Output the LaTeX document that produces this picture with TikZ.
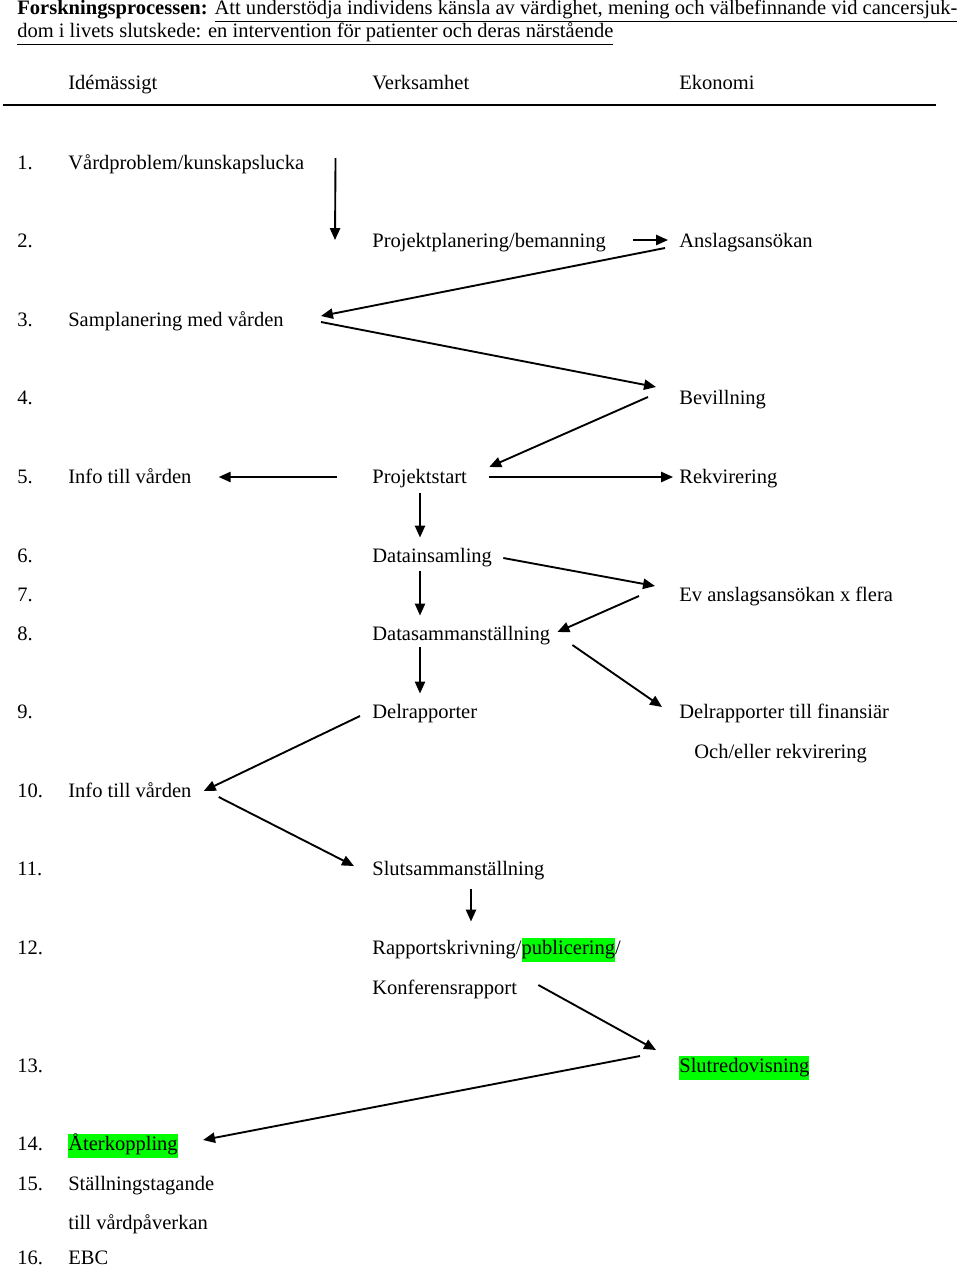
\documentclass[tikz,border=0pt]{standalone}
\usepackage{fontspec}
\setmainfont{Liberation Serif}
\usepackage{graphicx}
\usetikzlibrary{arrows.meta,calc}
\definecolor{hlgreen}{rgb}{0,1,0}
\newcommand{\hlg}[1]{{\setlength{\fboxsep}{0pt}\colorbox{hlgreen}{\strut #1}}}

\begin{document}
\begin{tikzpicture}[x=0.585pt,y=-0.585pt,
    txt/.style={anchor=west,inner sep=0pt,text height=10.4pt,text depth=1.5pt,
      font=\fontsize{12}{14}\selectfont},
    arr/.style={line width=1.1pt,-{Triangle[length=7pt,width=6pt]}}]
        \useasboundingbox (0,0) rectangle (960,1269);
        % Title
        \node[anchor=base west,inner sep=0pt,font=\fontsize{12}{14}\selectfont] (title1) at (17,15)
          {\resizebox{549.9pt}{\height}{\textbf{Forskningsprocessen:} \underline{Att understödja individens känsla av värdighet, mening och välbefinnande vid cancersjuk-}}};
        \node[anchor=base west,inner sep=0pt,font=\fontsize{12}{14}\selectfont] (title2) at (17,38)
          {\resizebox{348.7pt}{\height}{\underline{dom i livets slutskede: en intervention för patienter och deras närstående}}};
        % Head
        \node[txt] (idea) at (68,82) {Idémässigt};
        \node[txt] (verk) at (372,82) {Verksamhet};
        \node[txt] (ekon) at (679,82) {Ekonomi};
        \draw[line width=0.9pt] (3,105) -- (936,105);
        % Numbers
        \node[txt] (n1) at (17,162) {1.};
        \node[txt] (n2) at (17,240) {2.};
        \node[txt] (n3) at (17,319) {3.};
        \node[txt] (n4) at (17,397) {4.};
        \node[txt] (n5) at (17,476) {5.};
        \node[txt] (n6) at (17,555) {6.};
        \node[txt] (n7) at (17,594) {7.};
        \node[txt] (n8) at (17,633) {8.};
        \node[txt] (n9) at (17,711) {9.};
        \node[txt] (n10) at (17,790) {10.};
        \node[txt] (n11) at (17,868) {11.};
        \node[txt] (n12) at (17,947) {12.};
        \node[txt] (n13) at (17,1065) {13.};
        \node[txt] (n14) at (17,1143) {14.};
        \node[txt] (n15) at (17,1183) {15.};
        \node[txt] (n16) at (17,1257) {16.};
        % Idemassigt
        \node[txt] (vard) at (68,162) {Vårdproblem/kunskapslucka};
        \node[txt] (samp) at (68,319) {Samplanering med vården};
        \node[txt] (info1) at (68,476) {Info till vården};
        \node[txt] (info2) at (68,790) {Info till vården};
        \node[txt] (ater) at (68,1143) {\hlg{Återkoppling}};
        \node[txt] (stall) at (68,1183) {Ställningstagande};
        \node[txt] (till) at (68,1222) {till vårdpåverkan};
        \node[txt] (ebc) at (68,1257) {EBC};
        % Verksamhet
        \node[txt] (proj) at (372,240) {Projektplanering/bemanning};
        \node[txt] (start) at (372,476) {Projektstart};
        \node[txt] (datain) at (372,555) {Datainsamling};
        \node[txt] (datasam) at (372,633) {Datasammanställning};
        \node[txt] (delr) at (372,711) {Delrapporter};
        \node[txt] (slut) at (372,868) {Slutsammanställning};
        \node[txt] (rapp) at (372,947) {Rapportskrivning/\hlg{publicering}/};
        \node[txt] (konf) at (372,987) {Konferensrapport};
        % Ekonomi
        \node[txt] (ansl) at (679,240) {Anslagsansökan};
        \node[txt] (bev) at (679,397) {Bevillning};
        \node[txt] (rekv) at (679,476) {Rekvirering};
        \node[txt] (ev) at (679,594) {Ev anslagsansökan x flera};
        \node[txt] (delfin) at (679,711) {Delrapporter till finansiär};
        \node[txt] (och) at (694,751) {Och/eller rekvirering};
        \node[txt] (slutred) at (679,1065) {\hlg{Slutredovisning}};
        % Arrows
        \draw[arr] ($(vard.east)+(31,-4)$) -- ($(proj.west)+(-37,0)$);
        \draw[arr] ($(proj.east)+(27,0)$) -- ($(ansl.west)+(-11,0)$);
        \draw[arr] ($(ansl.west)+(-14,8)$) -- ($(samp.east)+(37,-3)$);
        \draw[arr] ($(samp.east)+(37,3)$) -- ($(bev.west)+(-23,-10)$);
        \draw[arr] ($(bev.west)+(-31,0)$) -- ($(start.east)+(22,-9)$);
        \draw[arr] ($(start.west)+(-35,1)$) -- ($(info1.east)+(27,1)$);
        \draw[arr] ($(start.east)+(22,1)$) -- ($(rekv.west)+(-6,1)$);
        \draw[arr] ($(start.south west)+(48,6)$) -- ($(datain.north west)+(48,-7)$);
        \draw[arr] ($(datain.east)+(11,3)$) -- ($(ev.west)+(-24,-8)$);
        \draw[arr] ($(datain.south west)+(48,5)$) -- ($(datasam.north west)+(48,-7)$);
        \draw[arr] ($(ev.west)+(-40,2)$) -- ($(datasam.east)+(7,-1)$);
        \draw[arr] ($(datasam.south west)+(48,3)$) -- ($(delr.north west)+(48,-7)$);
        \draw[arr] ($(datasam.east)+(22,12)$) -- ($(delfin.west)+(-17,-4)$);
        \draw[arr] ($(delr.west)+(-12,5)$) -- ($(info2.east)+(12,1)$);
        \draw[arr] ($(info2.east)+(27,7)$) -- ($(slut.west)+(-18,-2)$);
        \draw[arr] ($(slut.south west)+(99,10)$) -- ($(rapp.north west)+(99,-15)$);
        \draw[arr] ($(konf.east)+(21,-2)$) -- ($(slutred.west)+(-23,-15)$);
        \draw[arr] ($(slutred.west)+(-39,-9)$) -- ($(ater.east)+(25,-3)$);
      \end{tikzpicture}
\end{document}
